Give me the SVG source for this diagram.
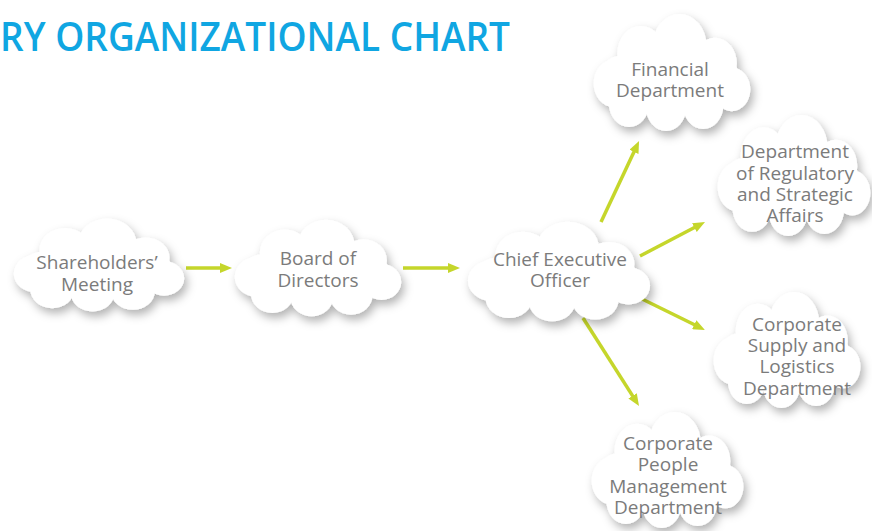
<svg xmlns="http://www.w3.org/2000/svg" xmlns:xlink="http://www.w3.org/1999/xlink" width="872" height="531" viewBox="0 0 872 531">
  <style>
    .title { font-family: "Open Sans", "Noto Sans", sans-serif; font-weight: 600; font-size: 40px; fill: #10a6e2; }
    .label { font-family: "Open Sans", "Noto Sans", sans-serif; font-size: 19px; fill: #7b7b7b; text-anchor: middle; }
    .link { stroke: #c5d62b; stroke-width: 3.5; fill: none; marker-end: url(#head); }
  </style>
  <defs>
    <!-- white cloud silhouette built from overlapping circles -->
    <symbol id="cloud" viewBox="4 0 95 61" preserveAspectRatio="none">
      <g fill="#ffffff">
        <rect x="8" y="22" width="84" height="26" rx="13"/>
        <circle cx="17" cy="36" r="12"/>
        <circle cx="33" cy="21" r="14"/>
        <circle cx="56" cy="17" r="16"/>
        <circle cx="77" cy="26" r="13"/>
        <circle cx="87" cy="39" r="11"/>
        <circle cx="70" cy="47" r="12"/>
        <circle cx="48" cy="48" r="12"/>
        <circle cx="26" cy="46" r="12"/>
      </g>
    </symbol>
    <filter id="shadow" x="-20%" y="-20%" width="145%" height="150%">
      <feDropShadow dx="3" dy="5" stdDeviation="5" flood-color="#000000" flood-opacity="0.3"/>
    </filter>
    <marker id="head" viewBox="0 0 12 10" refX="6" refY="5" markerWidth="12" markerHeight="10" markerUnits="userSpaceOnUse" orient="auto">
      <path d="M0,0 L12,5 L0,10 z" fill="#c5d62b"/>
    </marker>
  </defs>

  <rect width="872" height="531" fill="#ffffff"/>

  <text class="title" x="0" y="51" textLength="510" lengthAdjust="spacingAndGlyphs">RY ORGANIZATIONAL CHART</text>

  <!-- connectors -->
  <g id="connectors">
    <line class="link" x1="186" y1="268" x2="226" y2="268"/>
    <line class="link" x1="403" y1="268" x2="454" y2="268"/>
    <line class="link" x1="601" y1="222" x2="636.5" y2="146.4"/>
    <line class="link" x1="640" y1="256" x2="699.7" y2="224.8"/>
    <line class="link" x1="638" y1="297" x2="699.6" y2="327.3"/>
    <line class="link" x1="583" y1="318" x2="635.8" y2="400.9"/>
  </g>

  <!-- nodes -->
  <g id="shareholders">
    <g filter="url(#shadow)"><use xlink:href="#cloud" x="12" y="217" width="174" height="96"/></g>
    <text class="label" x="97" y="269">Shareholders’</text>
    <text class="label" x="97" y="291">Meeting</text>
  </g>

  <g id="board">
    <g filter="url(#shadow)"><use xlink:href="#cloud" x="233" y="218" width="170" height="100"/></g>
    <text class="label" x="318" y="265">Board of</text>
    <text class="label" x="318" y="287">Directors</text>
  </g>

  <g id="ceo">
    <g filter="url(#shadow)"><use xlink:href="#cloud" x="466" y="220" width="186" height="103"/></g>
    <text class="label" x="560" y="266">Chief Executive</text>
    <text class="label" x="560" y="287">Officer</text>
  </g>

  <g id="financial">
    <g filter="url(#shadow)"><use xlink:href="#cloud" x="592" y="12" width="160" height="121"/></g>
    <text class="label" x="670" y="76">Financial</text>
    <text class="label" x="670" y="97">Department</text>
  </g>

  <g id="regulatory">
    <g filter="url(#shadow)"><use xlink:href="#cloud" x="716" y="113" width="156" height="125"/></g>
    <text class="label" x="795" y="158">Department</text>
    <text class="label" x="795" y="180">of Regulatory</text>
    <text class="label" x="795" y="201">and Strategic</text>
    <text class="label" x="795" y="222">Affairs</text>
  </g>

  <g id="supply">
    <g filter="url(#shadow)"><use xlink:href="#cloud" x="712" y="290" width="150" height="120"/></g>
    <text class="label" x="797" y="331">Corporate</text>
    <text class="label" x="797" y="352">Supply and</text>
    <text class="label" x="797" y="373">Logistics</text>
    <text class="label" x="797" y="395">Department</text>
  </g>

  <g id="people">
    <g filter="url(#shadow)"><use xlink:href="#cloud" x="590" y="410" width="155" height="120"/></g>
    <text class="label" x="668" y="450">Corporate</text>
    <text class="label" x="668" y="471">People</text>
    <text class="label" x="668" y="493">Management</text>
    <text class="label" x="668" y="514">Department</text>
  </g>
</svg>
